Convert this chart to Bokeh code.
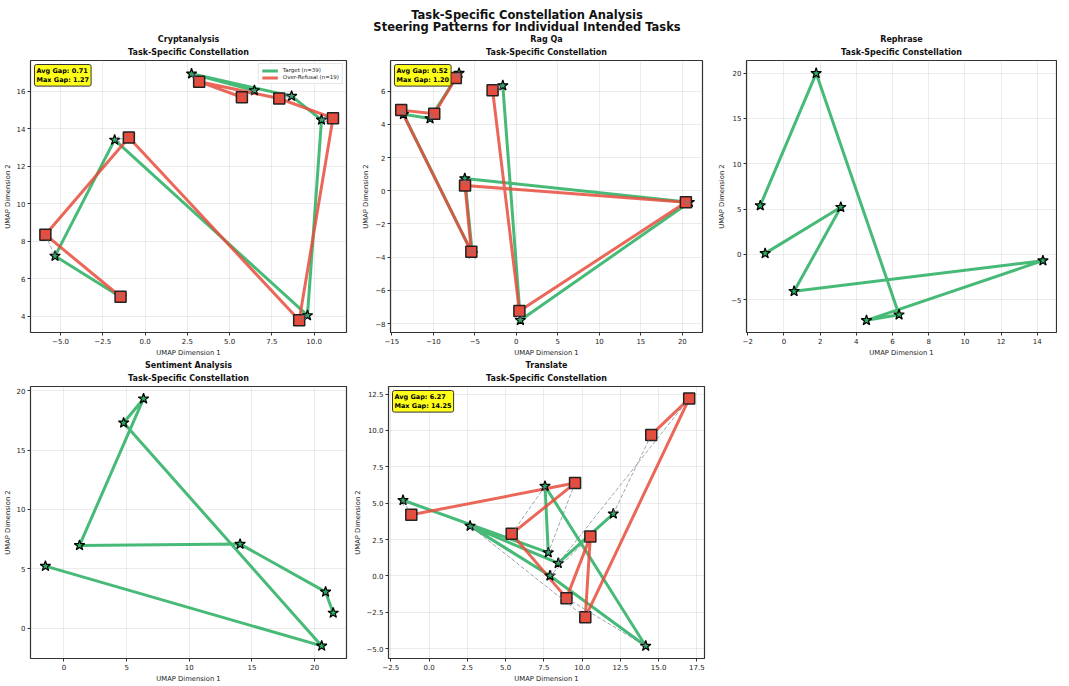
from bokeh.plotting import figure
from bokeh.layouts import column, row
from bokeh.models import (Range1d, FixedTicker, CustomJSTickFormatter, Title, Label,
                          Arrow, OpenHead, ColumnDataSource, Legend, LegendItem)
from bokeh.embed import file_html
from bokeh.resources import INLINE

FONT = "DejaVu Sans"
GREEN = "#27ae60"
RED = "#e74c3c"
GRAY = "#708090"

SUPTITLE = ["Task-Specific Constellation Analysis",
            "Steering Patterns for Individual Intended Tasks"]
SUBTITLE = "Task-Specific Constellation"
LEGEND_LABELS = ["Target (n=39)", "Over-Refusal (n=19)"]

# ---------------- data ----------------
tasks = ["Cryptanalysis", "Rag Qa", "Rephrase", "Sentiment Analysis", "Translate"]

crypt_target_x = [6.47, 2.75, 8.67, 10.44, 9.61, -1.80, -5.33, -1.42]
crypt_target_y = [16.04, 16.93, 15.74, 14.47, 4.03, 13.40, 7.20, 5.00]
crypt_refusal_x = [5.73, 3.20, 7.94, 11.12, 9.12, -0.96, -5.90, -1.45]
crypt_refusal_y = [15.68, 16.51, 15.61, 14.56, 3.77, 13.53, 8.34, 5.03]

rag_target_x = [-6.90, -10.40, -13.60, -5.30, -6.21, 20.84, 0.49, -1.63]
rag_target_y = [7.09, 4.35, 4.61, -3.79, 0.74, -0.69, -7.80, 6.34]
rag_refusal_x = [-7.29, -9.89, -13.87, -5.42, -6.18, 20.43, 0.37, -2.86]
rag_refusal_y = [6.79, 4.64, 4.86, -3.67, 0.32, -0.69, -7.25, 6.06]

rephrase_target_x = [-1.31, 1.78, 6.36, 4.56, 14.31, 0.56, 3.14, -1.04]
rephrase_target_y = [5.39, 19.97, -6.64, -7.26, -0.68, -4.06, 5.21, 0.12]

sentiment_target_x = [-1.48, 20.56, 4.76, 6.35, 1.24, 14.05, 20.87, 21.48]
sentiment_target_y = [5.22, -1.50, 17.30, 19.33, 6.97, 7.08, 3.05, 1.28]

translate_target_x = [-1.70, 7.79, 7.58, 14.16, 7.90, 2.68, 8.44, 12.04]
translate_target_y = [5.20, 1.60, 6.17, -4.82, 0.01, 3.43, 0.87, 4.27]
translate_refusal_x = [-1.16, 9.54, 5.40, 8.98, 10.54, 10.21, 17.00, 14.52]
translate_refusal_y = [4.20, 6.38, 2.89, -1.53, 2.70, -2.85, 12.19, 9.69]

gap_texts = {"Cryptanalysis": "Avg Gap: 0.71\nMax Gap: 1.27",
             "Rag Qa": "Avg Gap: 0.52\nMax Gap: 1.20",
             "Translate": "Avg Gap: 6.27\nMax Gap: 14.25"}

x_limits = {"Cryptanalysis": (-6.78, 11.92), "Rag Qa": (-15.16, 22.43),
            "Rephrase": (-2.07, 15.06), "Sentiment Analysis": (-2.67, 22.54),
            "Translate": (-2.65, 18.0)}
y_limits = {"Cryptanalysis": (3.12, 17.64), "Rag Qa": (-8.54, 7.85),
            "Rephrase": (-8.6, 21.38), "Sentiment Analysis": (-2.56, 20.36),
            "Translate": (-5.68, 13.02)}
x_ticks = {"Cryptanalysis": [-5, -2.5, 0, 2.5, 5, 7.5, 10],
           "Rag Qa": [-15, -10, -5, 0, 5, 10, 15, 20],
           "Rephrase": [-2, 0, 2, 4, 6, 8, 10, 12, 14],
           "Sentiment Analysis": [0, 5, 10, 15, 20],
           "Translate": [-2.5, 0, 2.5, 5, 7.5, 10, 12.5, 15, 17.5]}
y_ticks = {"Cryptanalysis": [4, 6, 8, 10, 12, 14, 16],
           "Rag Qa": [-8, -6, -4, -2, 0, 2, 4, 6],
           "Rephrase": [-5, 0, 5, 10, 15, 20],
           "Sentiment Analysis": [0, 5, 10, 15, 20],
           "Translate": [-5, -2.5, 0, 2.5, 5, 7.5, 10, 12.5]}
x_dec = {"Cryptanalysis": 1, "Rag Qa": 0, "Rephrase": 0, "Sentiment Analysis": 0, "Translate": 1}
y_dec = {"Cryptanalysis": 0, "Rag Qa": 0, "Rephrase": 0, "Sentiment Analysis": 0, "Translate": 1}

series = {
    "Cryptanalysis": (crypt_target_x, crypt_target_y, crypt_refusal_x, crypt_refusal_y),
    "Rag Qa": (rag_target_x, rag_target_y, rag_refusal_x, rag_refusal_y),
    "Rephrase": (rephrase_target_x, rephrase_target_y, None, None),
    "Sentiment Analysis": (sentiment_target_x, sentiment_target_y, None, None),
    "Translate": (translate_target_x, translate_target_y, translate_refusal_x, translate_refusal_y),
}


def fmt(d):
    return CustomJSTickFormatter(args=dict(d=d),
                                 code="return tick.toFixed(d).replace('-', '\u2212');")


def make_fig(name, bl, br, bt, fw, fh, legend=False):
    tx, ty, rx, ry = series[name]
    p = figure(frame_width=fw, frame_height=fh,
               x_range=Range1d(*x_limits[name]), y_range=Range1d(*y_limits[name]),
               output_backend="svg", toolbar_location=None, title="",
               min_border_left=bl, min_border_right=br, min_border_top=bt, min_border_bottom=24)
    p.add_layout(Title(text=SUBTITLE, align="center", text_font=FONT,
                       text_font_size="8px", text_font_style="bold", text_color="#111",
                       text_line_height=1.0, standoff=8), "above")
    p.add_layout(Title(text=name, align="center", text_font=FONT,
                       text_font_size="8px", text_font_style="bold", text_color="#111",
                       text_line_height=1.0, standoff=-4), "above")
    p.outline_line_color = "#333333"
    p.outline_line_width = 1.2
    p.background_fill_color = "white"
    p.border_fill_color = "white"

    p.xaxis.ticker = FixedTicker(ticks=x_ticks[name])
    p.yaxis.ticker = FixedTicker(ticks=y_ticks[name])
    p.xgrid.ticker = FixedTicker(ticks=x_ticks[name])
    p.ygrid.ticker = FixedTicker(ticks=y_ticks[name])
    p.xaxis.formatter = fmt(x_dec[name])
    p.yaxis.formatter = fmt(y_dec[name])
    p.xaxis.axis_label = "UMAP Dimension 1"
    p.yaxis.axis_label = "UMAP Dimension 2"
    for ax in (p.xaxis, p.yaxis):
        ax.axis_line_color = None
        ax.major_tick_out = 3
        ax.major_tick_in = 0
        ax.minor_tick_out = 0
        ax.minor_tick_in = 0
        ax.major_tick_line_color = "#333"
        ax.major_label_text_font = FONT
        ax.major_label_text_font_size = "7px"
        ax.major_label_text_color = "#222"
        ax.major_label_standoff = 2
        ax.axis_label_text_font = FONT
        ax.axis_label_text_font_size = "6.8px"
        ax.axis_label_text_font_style = "normal"
        ax.axis_label_text_color = "#222"
        ax.axis_label_standoff = 2
    for g in (p.xgrid, p.ygrid):
        g.grid_line_color = "#b0b0b0"
        g.grid_line_alpha = 0.3
        g.grid_line_width = 0.8

    gl = p.line(tx, ty, line_color=GREEN, line_width=3, line_alpha=0.85)
    items = [LegendItem(label=LEGEND_LABELS[0], renderers=[gl])]
    if rx is not None:
        rl = p.line(rx, ry, line_color=RED, line_width=3, line_alpha=0.85)
        items.append(LegendItem(label=LEGEND_LABELS[1], renderers=[rl]))
        src = ColumnDataSource(dict(x0=rx, y0=ry, x1=tx, y1=ty))
        p.add_layout(Arrow(end=OpenHead(size=5, line_color=GRAY, line_width=1, line_alpha=0.7),
                           x_start="x0", y_start="y0", x_end="x1", y_end="y1", source=src,
                           line_color=GRAY, line_width=1, line_alpha=0.7, line_dash="4 2"))
    p.scatter(tx, ty, marker="star", size=11, fill_color=GREEN, line_color="black", line_width=1.2)
    if rx is not None:
        p.scatter(rx, ry, marker="square", size=11, fill_color=RED, line_color="#222", line_width=1.5)

    if name in gap_texts:
        p.add_layout(Label(x=4, y=fh - 4, x_units="screen", y_units="screen", text=gap_texts[name],
                           text_baseline="top", text_align="left", text_font=FONT,
                           text_font_size="6.5px", text_font_style="bold", text_color="black",
                           background_fill_color="yellow", background_fill_alpha=0.9,
                           border_line_color="#333", border_line_width=1, padding=2,
                           border_radius=2))
    if legend:
        lg = Legend(items=items, location="top_right", label_text_font=FONT,
                    label_text_font_size="5.5px", label_text_color="#222",
                    glyph_width=16, glyph_height=5, label_height=6, spacing=1,
                    padding=3, margin=3, border_line_color="#cccccc",
                    background_fill_alpha=0.9)
        p.add_layout(lg)
    return p


# suptitle
top = figure(width=1053, height=34, x_range=Range1d(0, 1), y_range=Range1d(0, 1),
             output_backend="svg", toolbar_location=None, min_border=0)
top.axis.visible = False
top.grid.visible = False
top.outline_line_color = None
top.add_layout(Label(x=0.5, y=20, y_units="screen", text=SUPTITLE[0], text_align="center",
                     text_baseline="middle", text_font=FONT, text_font_size="11.5px",
                     text_font_style="bold", text_color="#111"))
top.add_layout(Label(x=0.5, y=8, y_units="screen", text=SUPTITLE[1], text_align="center",
                     text_baseline="middle", text_font=FONT, text_font_size="11.5px",
                     text_font_style="bold", text_color="#111"))

f1 = make_fig("Cryptanalysis", 26, 4, 25, 316, 272, legend=True)
f2 = make_fig("Rag Qa", 40, 4, 25, 312, 272)
f3 = make_fig("Rephrase", 40, 1, 25, 310, 272)
f4 = make_fig("Sentiment Analysis", 26, 4, 27, 316, 272)
f5 = make_fig("Translate", 38, 4, 27, 316, 272)

layout = column(top, row(f1, f2, f3), row(f4, f5))
open("out.html", "w").write(file_html(layout, INLINE))
